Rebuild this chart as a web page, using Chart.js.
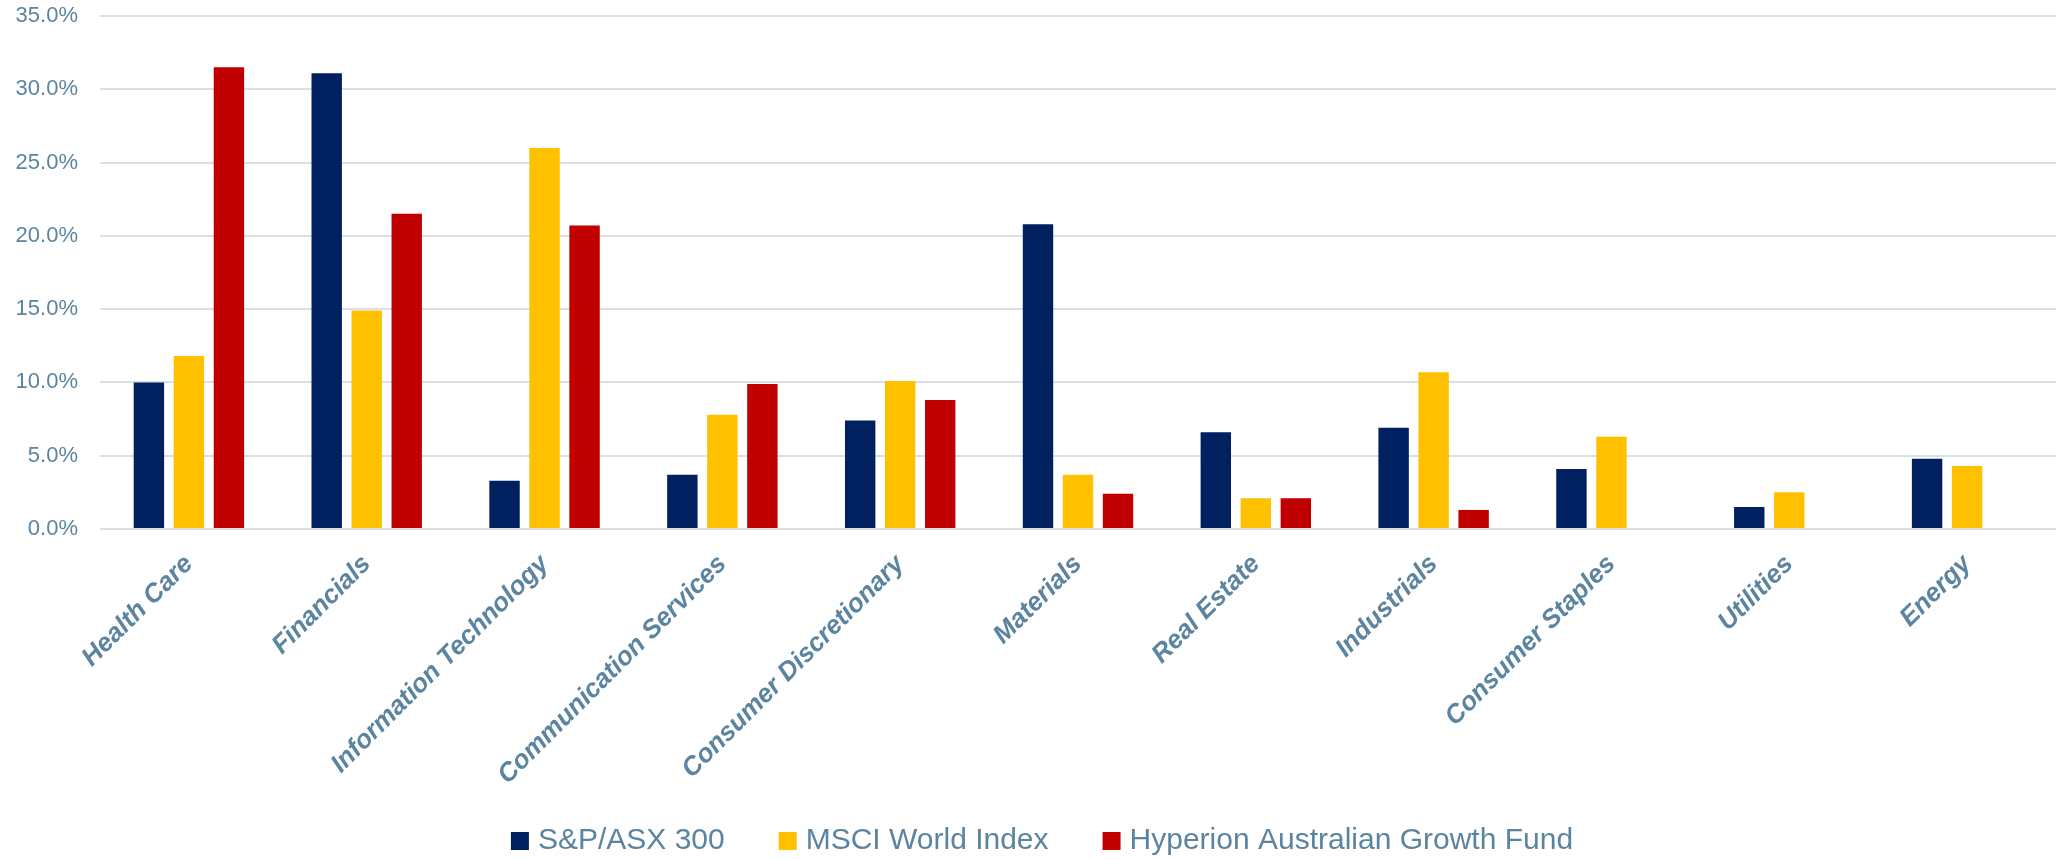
<!DOCTYPE html>
<html>
<head>
<meta charset="utf-8">
<script src="https://cdn.jsdelivr.net/npm/chart.js@4/dist/chart.umd.min.js"></script>
<style>
  html, body { margin: 0; padding: 0; background: #ffffff; }
  #wrap { width: 2056px; height: 859px; }
</style>
</head>
<body>
<div id="wrap"><canvas id="chart" width="2056" height="859"></canvas></div>
<script>
// Sector weights (%) by portfolio / index
const sectors = [
  'Health Care', 'Financials', 'Information Technology', 'Communication Services',
  'Consumer Discretionary', 'Materials', 'Real Estate', 'Industrials',
  'Consumer Staples', 'Utilities', 'Energy'
];
const asx300    = [10.0, 31.1, 3.3, 3.7, 7.4, 20.8, 6.6, 6.9, 4.1, 1.5, 4.8];
const msciWorld = [11.8, 14.9, 26.0, 7.8, 10.1, 3.7, 2.1, 10.7, 6.3, 2.5, 4.3];
const hyperion  = [31.5, 21.5, 20.7, 9.9, 8.8, 2.4, 2.1, 1.3, null, null, null];

const seriesNames = ['S&P/ASX 300', 'MSCI World Index', 'Hyperion Australian Growth Fund'];
const seriesColors = ['#002060', '#FFC000', '#C00000'];
const yTicks = [0, 5, 10, 15, 20, 25, 30, 35];

const textColor = '#5B84A0';
const gridColor = '#D8E1E5';
const fontFamily = "'Liberation Sans', Arial, sans-serif";

// positions the legend row and lets the rotated category labels use the space below the axis
const layoutTweaks = {
  id: 'layoutTweaks',
  afterLayout(chart) {
    const l = chart.legend;
    if (l) {
      l.left += 14; l.right += 14;
      l.top += 7; l.bottom += 7;
    }
    const x = chart.scales.x;
    if (x) x.bottom = chart.height;
  }
};

new Chart(document.getElementById('chart'), {
  type: 'bar',
  data: {
    labels: sectors,
    datasets: seriesNames.map((name, i) => ({
      label: name,
      data: [asx300, msciWorld, hyperion][i],
      backgroundColor: seriesColors[i]
    }))
  },
  options: {
    responsive: false,
    devicePixelRatio: 1,
    animation: false,
    layout: { padding: { top: 16, right: -6, bottom: 0, left: 0 } },
    datasets: { bar: { categoryPercentage: 0.675, barPercentage: 0.76 } },
    plugins: {
      tooltip: { enabled: false },
      legend: {
        position: 'bottom',
        labels: {
          color: textColor,
          font: { family: fontFamily, size: 30 },
          boxWidth: 6,
          boxHeight: 6,
          padding: 60,
          // square swatches: small box widened by a matching stroke
          generateLabels(chart) {
            return chart.data.datasets.map((ds, i) => ({
              text: ds.label,
              fillStyle: ds.backgroundColor,
              strokeStyle: ds.backgroundColor,
              lineWidth: 12,
              lineJoin: 'miter',
              fontColor: textColor,
              hidden: !chart.isDatasetVisible(i),
              datasetIndex: i
            }));
          }
        }
      }
    },
    scales: {
      x: {
        grid: { display: false, drawTicks: false },
        border: { display: false },
        afterFit(s) { s.height = 230; },
        ticks: {
          autoSkip: false,
          minRotation: 45,
          maxRotation: 45,
          padding: 20,
          color: textColor,
          font: { family: fontFamily, size: 26, weight: 'bold', style: 'italic' }
        }
      },
      y: {
        min: 0,
        max: 35,
        afterFit(s) { s.width = 100; s.paddingTop = 0; s.paddingBottom = 0; },
        afterBuildTicks(s) { s.ticks = yTicks.map(v => ({ value: v })); },
        grid: { color: gridColor, lineWidth: 2, drawTicks: false },
        border: { display: false },
        ticks: {
          padding: 22,
          color: textColor,
          font: { family: fontFamily, size: 22 },
          callback: v => v.toFixed(1) + '%'
        }
      }
    }
  },
  plugins: [layoutTweaks]
});
</script>
</body>
</html>
